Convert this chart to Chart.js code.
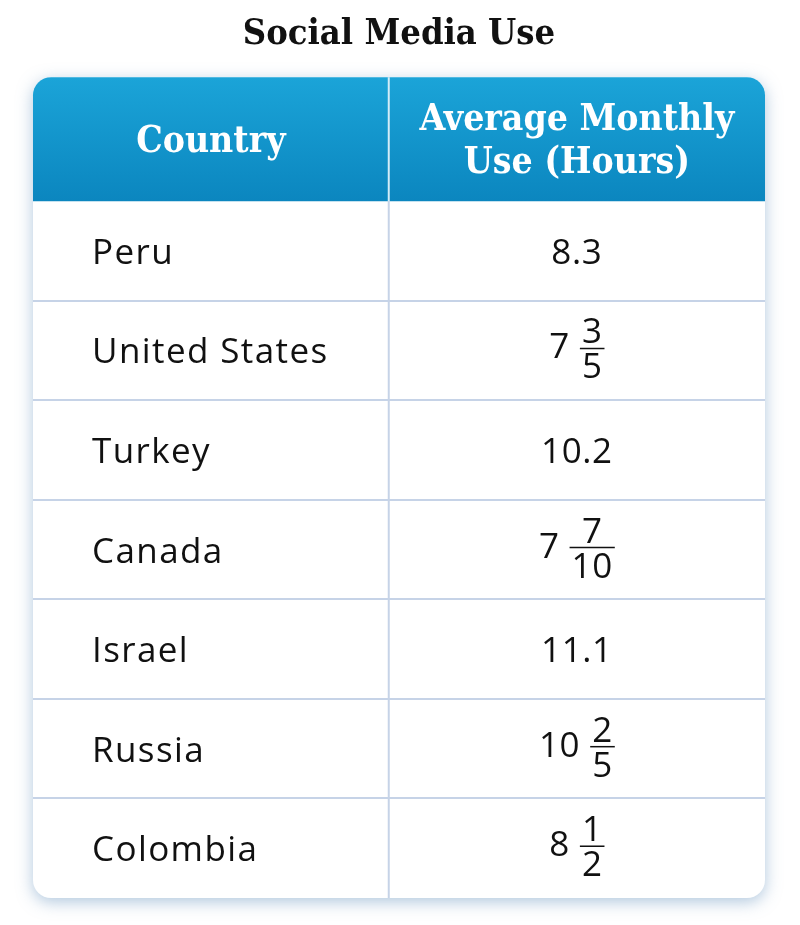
<!DOCTYPE html>
<html>
<head>
<meta charset="utf-8">
<script src="https://cdn.jsdelivr.net/npm/chart.js@4.4.1/dist/chart.umd.min.js"></script>
<style>
  html, body { margin: 0; padding: 0; background: #fff; }
  #wrap { width: 800px; height: 925px; }
</style>
</head>
<body>
<div id="wrap"><canvas id="tableChart"></canvas></div>
<script>
const countries = ["Peru", "United States", "Turkey", "Canada", "Israel", "Russia", "Colombia"];
const wholeParts = ["8.3", "7", "10.2", "7", "11.1", "10", "8"];
const numerators = ["", "3", "", "7", "", "2", "1"];
const denominators = ["", "5", "", "10", "", "5", "2"];
const headerCountry = ["Country"];
const headerUse = ["Average Monthly", "Use (Hours)"];

const serifFamily = '"DejaVu Serif Condensed", "DejaVu Serif", serif';
const headFont = 'bold 37px ' + serifFamily;
const bodyFont = '35px "Open Sans", "Noto Sans", sans-serif';
const gridColor = "#c6d3e7";

// draws the table cells, rows come from the y category scale
const tablePlugin = {
  id: "tablePlugin",
  beforeDraw(chart) {
    const { ctx, chartArea: a, scales } = chart;
    const y = scales.y;
    const left = a.left, right = a.right;
    const headTop = a.top - 124, bottom = a.bottom;
    const divX = left + (right - left) * 0.486;
    const r = 18;

    ctx.save();
    // shadow + white body
    ctx.shadowColor = "rgba(100, 145, 190, 0.5)";
    ctx.shadowBlur = 16;
    ctx.shadowOffsetY = 4;
    ctx.fillStyle = "#fff";
    ctx.beginPath();
    ctx.roundRect(left, headTop, right - left, bottom - headTop, r);
    ctx.fill();
    ctx.restore();

    // header
    ctx.save();
    ctx.beginPath();
    ctx.roundRect(left, headTop, right - left, a.top - headTop, [r, r, 0, 0]);
    const g = ctx.createLinearGradient(0, headTop, 0, a.top);
    g.addColorStop(0, "#1ba4d8");
    g.addColorStop(1, "#0b86bf");
    ctx.fillStyle = g;
    ctx.fill();
    ctx.restore();

    ctx.save();
    ctx.strokeStyle = "#d4ecf7";
    ctx.lineWidth = 2;
    ctx.beginPath();
    ctx.moveTo(divX, headTop);
    ctx.lineTo(divX, a.top);
    ctx.stroke();

    // body grid
    ctx.strokeStyle = gridColor;
    ctx.beginPath();
    ctx.moveTo(divX, a.top);
    ctx.lineTo(divX, bottom);
    for (let i = 1; i < countries.length; i++) {
      const yy = Math.round((y.getPixelForValue(i - 1) + y.getPixelForValue(i)) / 2);
      ctx.moveTo(left, yy);
      ctx.lineTo(right, yy);
    }
    ctx.stroke();
    ctx.restore();

    // header text
    ctx.save();
    ctx.fillStyle = "#fff";
    ctx.font = headFont;
    ctx.textAlign = "center";
    ctx.textBaseline = "middle";
    const hMid = (headTop + a.top) / 2;
    ctx.fillText(headerCountry[0], (left + divX) / 2, hMid + 3);
    const c2 = (divX + right) / 2;
    ctx.fillText(headerUse[0], c2, hMid - 19);
    ctx.fillText(headerUse[1], c2, hMid + 24);
    ctx.restore();

    // rows
    ctx.save();
    ctx.fillStyle = "#111";
    ctx.font = bodyFont;
    ctx.textBaseline = "middle";
    countries.forEach((name, i) => {
      const cy = y.getPixelForValue(i);
      ctx.textAlign = "left";
      ctx.letterSpacing = "1.4px";
      ctx.fillText(name, left + 59, cy + 3);
      ctx.letterSpacing = "0.6px";

      const whole = wholeParts[i];
      const wW = ctx.measureText(whole).width;
      if (!numerators[i]) {
        ctx.textAlign = "center";
        ctx.fillText(whole, c2, cy + 3);
        return;
      }
      const fW = Math.max(ctx.measureText(numerators[i]).width, ctx.measureText(denominators[i]).width) + 4;
      const gap = 10;
      const x0 = c2 - (wW + gap + fW) / 2;
      ctx.textAlign = "left";
      ctx.fillText(whole, x0, cy - 2);
      const fx = x0 + wW + gap;
      const fy = cy - 2;
      ctx.textAlign = "center";
      ctx.fillText(numerators[i], fx + fW / 2, fy - 15);
      ctx.fillText(denominators[i], fx + fW / 2, fy + 20);
      ctx.strokeStyle = "#111";
      ctx.lineWidth = 1.5;
      ctx.beginPath();
      ctx.moveTo(fx, fy);
      ctx.lineTo(fx + fW, fy);
      ctx.stroke();
    });
    ctx.restore();
  }
};

new Chart(document.getElementById("tableChart"), {
  type: "bar",
  data: {
    labels: countries,
    datasets: []
  },
  options: {
    responsive: true,
    maintainAspectRatio: false,
    animation: false,
    indexAxis: "y",
    layout: {
      padding: { top: 0, left: 33, right: 35, bottom: 27 }
    },
    plugins: {
      legend: { display: false },
      tooltip: { enabled: false },
      title: {
        display: true,
        text: "Social Media Use",
        color: "#111",
        font: { family: serifFamily, size: 36, weight: "bold" },
        padding: { top: 13, bottom: 145 }
      }
    },
    scales: {
      x: { display: false },
      y: { display: false, offset: true }
    }
  },
  plugins: [tablePlugin]
});
</script>
</body>
</html>
